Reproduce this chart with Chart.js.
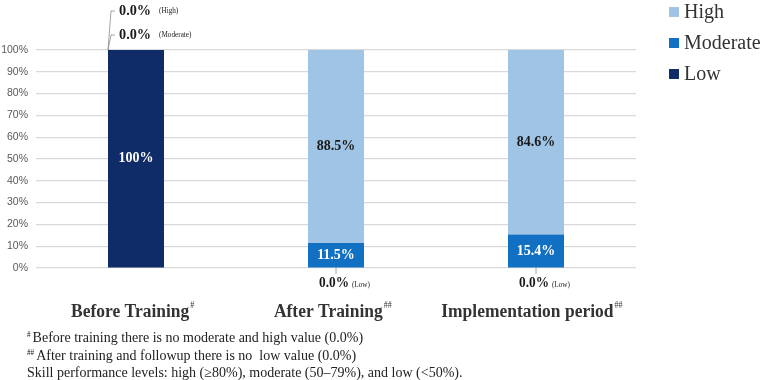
<!DOCTYPE html>
<html>
<head>
<meta charset="utf-8">
<script src="https://cdn.jsdelivr.net/npm/chart.js@4.4.0/dist/chart.umd.min.js"></script>
<style>
  html, body { margin: 0; padding: 0; background: #fff; }
  #wrap { width: 767px; height: 380px; }
</style>
</head>
<body>
<div id="wrap"><canvas id="skillChart" width="767" height="380"></canvas></div>
<script>
const categories = ['Before Training', 'After Training', 'Implementation period'];
const catMarks = ['#', '##', '##'];
const lowValues = [100, 0, 0];
const moderateValues = [0, 11.5, 15.4];
const highValues = [0, 88.5, 84.6];
const yTicks = [0, 10, 20, 30, 40, 50, 60, 70, 80, 90, 100];
const footnotes = [
  ['#', 'Before training there is no moderate and high value (0.0%)'],
  ['##', 'After training and followup there is no  low value (0.0%)'],
  ['', 'Skill performance levels: high (\u226580%), moderate (50\u201379%), and low (<50%).']
];

const colors = { Low: '#0f2b68', Moderate: '#1270c2', High: '#a0c4e6' };
const serif = '"Liberation Serif", "Times New Roman", serif';

// serif text helper, with optional horizontal squeeze
function squeezeText(ctx, text, x, y, sx) {
  ctx.save();
  ctx.translate(x, y);
  ctx.scale(sx, 1);
  ctx.fillText(text, 0, 0);
  const w = ctx.measureText(text).width * sx;
  ctx.restore();
  return w;
}

const extrasPlugin = {
  id: 'extras',
  afterDatasetsDraw(chart) {
    const ctx = chart.ctx;
    const xs = chart.scales.x;
    const ys = chart.scales.y;
    const area = chart.chartArea;

    // value labels inside bars
    chart.data.datasets.forEach((ds, di) => {
      const meta = chart.getDatasetMeta(di);
      meta.data.forEach((bar, i) => {
        const v = ds.data[i];
        if (!v) return;
        ctx.save();
        ctx.font = 'bold 14px ' + serif;
        ctx.textAlign = 'center';
        ctx.textBaseline = 'middle';
        ctx.fillStyle = ds.label === 'High' ? '#1a1a1a' : '#ffffff';
        const txt = v === 100 ? '100%' : v.toFixed(1) + '%';
        ctx.fillText(txt, bar.x, (bar.y + bar.base) / 2);
        ctx.restore();
      });
    });

    // zero-value callouts
    ctx.save();
    ctx.strokeStyle = '#8c8c8c';
    ctx.lineWidth = 0.8;
    chart.data.datasets.forEach((ds, di) => {
      const meta = chart.getDatasetMeta(di);
      meta.data.forEach((bar, i) => {
        if (ds.data[i] !== 0) return;
        const left = bar.x - bar.width / 2;
        ctx.fillStyle = '#1a1a1a';
        if (ds.label === 'Low') {
          const yb = ys.getPixelForValue(0);
          ctx.beginPath();
          ctx.moveTo(bar.x, yb);
          ctx.lineTo(bar.x, yb + 6);
          ctx.stroke();
          ctx.font = 'bold 14px ' + serif;
          ctx.textBaseline = 'alphabetic';
          ctx.textAlign = 'left';
          const w = squeezeText(ctx, '0.0%', bar.x - 17, yb + 19, 0.95);
          ctx.font = '8px ' + serif;
          squeezeText(ctx, '(Low)', bar.x - 17 + w + 3, yb + 19, 0.9);
        } else {
          const yt = ys.getPixelForValue(100);
          const rise = ds.label === 'High' ? 39 : 15;
          ctx.beginPath();
          ctx.moveTo(left, yt);
          ctx.lineTo(left + 3, yt - rise);
          ctx.lineTo(left + 7, yt - rise);
          ctx.stroke();
          ctx.font = 'bold 15px ' + serif;
          ctx.textBaseline = 'middle';
          ctx.textAlign = 'left';
          const w = squeezeText(ctx, '0.0%', left + 11, yt - rise, 0.95);
          ctx.font = '8px ' + serif;
          squeezeText(ctx, '(' + ds.label + ')', left + 11 + w + 8, yt - rise, 0.9);
        }
      });
    });
    ctx.restore();

    // category labels with superscript marks
    ctx.save();
    ctx.fillStyle = '#333';
    ctx.textBaseline = 'alphabetic';
    categories.forEach((c, i) => {
      const cx = xs.getPixelForValue(i);
      ctx.font = 'bold 18px ' + serif;
      const w1 = ctx.measureText(c).width;
      ctx.font = '10px ' + serif;
      const w2 = ctx.measureText(catMarks[i]).width * 0.8;
      const start = cx - (w1 + w2) / 2 - 2;
      ctx.font = 'bold 18px ' + serif;
      squeezeText(ctx, c, start, area.bottom + 49, 0.97);
      ctx.font = '10px ' + serif;
      squeezeText(ctx, catMarks[i], start + w1 * 0.97 + 1, area.bottom + 40, 0.8);
    });

    // footnotes
    ctx.fillStyle = '#222';
    footnotes.forEach((f, i) => {
      const y = area.bottom + 74 + i * 17.5;
      let x = 27;
      if (f[0]) {
        ctx.font = '9px ' + serif;
        x += squeezeText(ctx, f[0], x, y - 5, 0.8) + 2;
      }
      ctx.font = '14px ' + serif;
      squeezeText(ctx, f[1], x, y, 1);
    });
    ctx.restore();

    // legend, top-down High / Moderate / Low
    ctx.save();
    ['High', 'Moderate', 'Low'].forEach((name, i) => {
      const y = 12 + i * 31;
      ctx.fillStyle = colors[name];
      ctx.fillRect(669, y - 5, 10, 10);
      ctx.fillStyle = '#333';
      ctx.font = '20px ' + serif;
      ctx.textBaseline = 'middle';
      ctx.fillText(name, 684, y + 1);
    });
    ctx.restore();
  }
};

const ctx = document.getElementById('skillChart');
new Chart(ctx, {
  type: 'bar',
  data: {
    labels: categories,
    datasets: [
      { label: 'Low', data: lowValues, backgroundColor: colors.Low },
      { label: 'Moderate', data: moderateValues, backgroundColor: colors.Moderate },
      { label: 'High', data: highValues, backgroundColor: colors.High }
    ]
  },
  options: {
    responsive: false,
    animation: false,
    layout: { padding: { top: 50, right: 131, bottom: 104, left: 0 } },
    datasets: { bar: { categoryPercentage: 1, barPercentage: 0.28 } },
    plugins: {
      legend: { display: false },
      tooltip: { enabled: false }
    },
    scales: {
      x: {
        stacked: true,
        grid: { display: false },
        border: { display: false },
        ticks: { display: false }
      },
      y: {
        stacked: true,
        min: 0,
        max: 100,
        afterBuildTicks: (s) => { s.ticks = yTicks.map(v => ({ value: v })); },
        afterFit: (s) => { s.width = 36; },
        grid: { color: '#d9d9d9', lineWidth: 1.2, drawTicks: false },
        border: { display: false },
        ticks: {
          padding: 8,
          color: '#595959',
          font: { family: 'Arial, "Liberation Sans", sans-serif', size: 10.5 },
          callback: (v) => v + '%'
        }
      }
    }
  },
  plugins: [extrasPlugin]
});
</script>
</body>
</html>
